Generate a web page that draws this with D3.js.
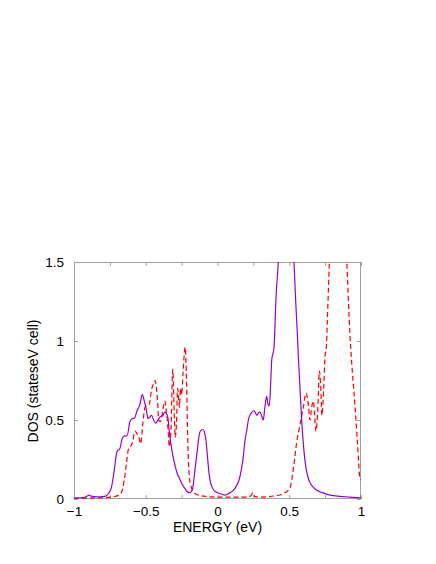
<!DOCTYPE html>
<html>
<head>
<meta charset="utf-8">
<script src="https://cdn.jsdelivr.net/npm/d3@7"></script>
<style>
html,body{margin:0;padding:0;background:#fff;}
svg text{font-family:"Liberation Sans",Arial,Helvetica,sans-serif;}
</style>
</head>
<body>
<svg id="chart" width="436" height="564"></svg>
<script>
// ---- data ----
const xTicks = [-1, -0.75, -0.5, -0.25, 0, 0.25, 0.5, 0.75, 1];
const xTickLabels = ["\u22121", "", "\u22120.5", "", "0", "", "0.5", "", "1"];
const yTicks = [0, 0.5, 1, 1.5];
const yTickLabels = ["0", "0.5", "1", "1.5"];
const xTitle = "ENERGY (eV)";
const yTitle = "DOS (stateseV cell)";

const energyUp = [-1.00,-0.95,-0.92,-0.895,-0.88,-0.86,-0.82,-0.78,-0.76,-0.74,-0.72,-0.70,-0.68,-0.665,-0.65,-0.63,-0.61,-0.59,-0.58,-0.56,-0.54,-0.525,-0.51,-0.495,-0.485,-0.47,-0.46,-0.445,-0.43,-0.415,-0.40,-0.38,-0.366,-0.355,-0.345,-0.335,-0.325,-0.31,-0.295,-0.28,-0.265,-0.25,-0.23,-0.21,-0.19,-0.175,-0.165,-0.155,-0.143,-0.13,-0.12,-0.10,-0.09,-0.08,-0.07,-0.06,-0.05,-0.04,-0.02,0.00,0.03,0.05,0.08,0.11,0.13,0.15,0.165,0.18,0.19,0.205,0.215,0.226,0.24,0.254,0.265,0.275,0.285,0.296,0.31,0.319,0.33,0.343,0.352,0.361,0.37,0.378,0.394,0.408,0.424,0.44,0.46,0.48,0.50,0.52,0.533,0.545,0.555,0.563,0.575,0.587,0.60,0.61,0.62,0.633,0.65,0.67,0.69,0.73,0.784,0.85,0.92,1.00];
const dosUp = [0.005,0.008,0.012,0.025,0.018,0.015,0.013,0.018,0.035,0.07,0.18,0.30,0.32,0.38,0.40,0.40,0.49,0.51,0.51,0.56,0.60,0.66,0.62,0.56,0.51,0.52,0.53,0.50,0.48,0.50,0.52,0.53,0.55,0.54,0.51,0.42,0.35,0.27,0.21,0.16,0.13,0.10,0.07,0.045,0.04,0.06,0.12,0.20,0.29,0.39,0.43,0.44,0.42,0.37,0.27,0.17,0.11,0.08,0.05,0.04,0.03,0.025,0.035,0.055,0.08,0.12,0.18,0.27,0.36,0.44,0.50,0.53,0.55,0.56,0.545,0.53,0.545,0.55,0.52,0.50,0.58,0.65,0.60,0.59,0.72,0.88,0.96,1.28,1.50,1.80,2.05,2.15,2.05,1.75,1.50,1.25,1.07,0.91,0.70,0.49,0.33,0.24,0.18,0.13,0.095,0.072,0.057,0.04,0.025,0.017,0.012,0.008];

const energyDn = [-1.00,-0.90,-0.80,-0.74,-0.70,-0.67,-0.65,-0.635,-0.622,-0.61,-0.60,-0.59,-0.575,-0.56,-0.55,-0.535,-0.52,-0.505,-0.49,-0.475,-0.46,-0.445,-0.435,-0.425,-0.417,-0.41,-0.40,-0.39,-0.378,-0.366,-0.36,-0.352,-0.343,-0.336,-0.324,-0.312,-0.30,-0.294,-0.286,-0.278,-0.27,-0.265,-0.258,-0.25,-0.24,-0.226,-0.215,-0.208,-0.196,-0.185,-0.17,-0.15,-0.12,-0.08,-0.04,0.00,0.10,0.20,0.23,0.247,0.26,0.30,0.40,0.435,0.47,0.505,0.53,0.552,0.575,0.598,0.617,0.63,0.645,0.655,0.668,0.675,0.686,0.698,0.71,0.72,0.728,0.74,0.75,0.758,0.765,0.779,0.80,0.84,0.88,0.90,0.923,0.94,0.958,0.975,0.993,1.00];
const dosDn = [0.005,0.006,0.008,0.012,0.02,0.04,0.12,0.22,0.31,0.33,0.34,0.37,0.43,0.41,0.40,0.35,0.48,0.58,0.59,0.60,0.69,0.73,0.75,0.70,0.61,0.50,0.49,0.51,0.58,0.62,0.58,0.52,0.42,0.33,0.44,0.82,0.50,0.39,0.48,0.70,0.62,0.58,0.70,0.66,0.80,0.96,0.72,0.40,0.14,0.08,0.05,0.03,0.022,0.016,0.013,0.012,0.012,0.012,0.018,0.04,0.015,0.012,0.02,0.025,0.04,0.07,0.20,0.36,0.47,0.58,0.67,0.62,0.50,0.575,0.62,0.55,0.43,0.55,0.81,0.70,0.53,0.70,0.91,0.955,1.12,1.48,1.85,2.10,1.85,1.52,1.04,0.80,0.59,0.36,0.13,0.12];

// ---- layout ----
const L = 74, R = 361, T = 262, B = 499;
const svg = d3.select("#chart");
const x = d3.scaleLinear().domain([-1, 1]).range([L, R]);
const y = d3.scaleLinear().domain([0, 1.5]).range([B, T]);

svg.append("defs").append("clipPath").attr("id", "clip")
  .append("rect").attr("x", L).attr("y", T).attr("width", R - L).attr("height", B - T);

const frameColor = "#a0a0a0";
const tickFont = 13.5;
const titleFont = 14;

function styleAxis(g, showText) {
  g.select(".domain").remove();
  g.selectAll(".tick line").attr("stroke", frameColor).attr("stroke-width", 1);
  g.selectAll(".tick text").attr("fill", "#000").style("font-size", tickFont + "px");
  if (!showText) g.selectAll(".tick text").remove();
}

const xLab = d => xTickLabels[xTicks.indexOf(d)];
const yLab = d => yTickLabels[yTicks.indexOf(d)];

svg.append("g").attr("transform", `translate(0,${B})`)
  .call(d3.axisBottom(x).tickValues(xTicks).tickFormat(xLab).tickSizeInner(-4).tickSizeOuter(0).tickPadding(7.5))
  .call(g => styleAxis(g, true));
svg.append("g").attr("transform", `translate(0,${T})`)
  .call(d3.axisTop(x).tickValues(xTicks).tickSizeInner(-4).tickSizeOuter(0))
  .call(g => styleAxis(g, false));
svg.append("g").attr("transform", `translate(${L},0)`)
  .call(d3.axisLeft(y).tickValues(yTicks).tickFormat(yLab).tickSizeInner(-4).tickSizeOuter(0).tickPadding(10))
  .call(g => styleAxis(g, true));
svg.append("g").attr("transform", `translate(${R},0)`)
  .call(d3.axisRight(y).tickValues(yTicks).tickSizeInner(-4).tickSizeOuter(0))
  .call(g => styleAxis(g, false));

svg.append("rect").attr("x", L + 0.5).attr("y", T + 0.5)
  .attr("width", R - L - 1).attr("height", B - T - 1)
  .attr("fill", "none").attr("stroke", frameColor).attr("stroke-width", 1);

const lineGen = d3.line().x(d => x(d[0])).y(d => y(d[1])).curve(d3.curveMonotoneX);
const upData = energyUp.map((e, i) => [e, dosUp[i]]);
const dnData = energyDn.map((e, i) => [e, dosDn[i]]);

const plot = svg.append("g").attr("clip-path", "url(#clip)");
plot.append("path").datum(dnData).attr("d", lineGen)
  .attr("fill", "none").attr("stroke", "#ff0000").attr("stroke-width", 1.2)
  .attr("stroke-dasharray", "5,3");
plot.append("path").datum(upData).attr("d", lineGen)
  .attr("fill", "none").attr("stroke", "#9400d3").attr("stroke-width", 1.2);

svg.append("text").attr("x", (L + R) / 2).attr("y", 532)
  .attr("text-anchor", "middle").style("font-size", titleFont + "px").text(xTitle);
svg.append("text").attr("transform", `translate(38,381) rotate(-90)`)
  .attr("text-anchor", "middle").style("font-size", titleFont + "px").text(yTitle);
</script>
</body>
</html>
